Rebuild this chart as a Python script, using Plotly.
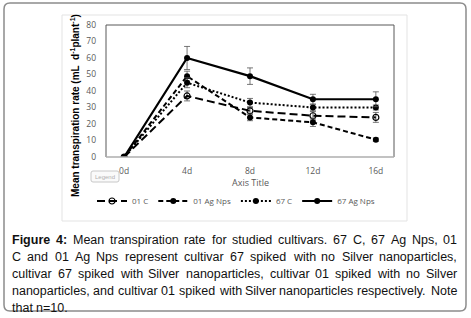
import plotly.graph_objects as go

# ---------------- data ----------------
days = ["0d", "4d", "8d", "12d", "16d"]
c01 = [0, 37, 28, 25, 24]
c01_err = [0, 3, 2, 2.5, 3]
ag01 = [0, 49, 24, 21, 10.5]
ag01_err = [0, 3, 2, 2.5, 1]
c67 = [0, 45, 33, 30, 30]
c67_err = [0, 3, 2.5, 2, 1.5]
ag67 = [0, 60, 49, 35, 35]
ag67_err = [0, 7, 5, 3, 4.5]
y_ticks = [0, 10, 20, 30, 40, 50, 60, 70, 80]

caption_lines = [
    "Figure 4: Mean transpiration rate for studied cultivars. 67 C, 67 Ag Nps, 01",
    "C and 01 Ag Nps represent cultivar 67 spiked with no Silver nanoparticles,",
    "cultivar 67 spiked with Silver nanoparticles, cultivar 01 spiked with no Silver",
    "nanoparticles, and cultivar 01 spiked with Silver nanoparticles respectively. Note",
    "that n=10.",
]

W, H = 471, 318
L, R, T, B = 106, 394, 25, 157


def px(x):
    return (x - L) / (R - L)


def py(y):
    return (B - y) / (B - T)


# Arial / Liberation Sans widths (per 1000 em)
AW = {' ': 278, ',': 278, '.': 278, ':': 278, '=': 584, '-': 333,
      '0': 556, '1': 556, '2': 556, '3': 556, '4': 556, '5': 556, '6': 556, '7': 556, '8': 556, '9': 556,
      'A': 667, 'C': 722, 'F': 611, 'M': 833, 'N': 722, 'S': 667,
      'a': 556, 'b': 556, 'c': 500, 'd': 556, 'e': 556, 'f': 278, 'g': 556, 'h': 556, 'i': 222,
      'j': 222, 'k': 500, 'l': 222, 'm': 833, 'n': 556, 'o': 556, 'p': 556, 'q': 556, 'r': 333,
      's': 500, 't': 278, 'u': 556, 'v': 500, 'w': 722, 'x': 500, 'y': 500, 'z': 500}
AWB = dict(AW)
AWB.update({':': 333, 'F': 611, 'i': 278, 'g': 611, 'u': 611, 'r': 389, 'e': 556})


def tw(s, size, bold=False):
    tab = AWB if bold else AW
    return sum(tab.get(ch, 556) for ch in s) * size / 1000.0


fig = go.Figure()

series = [
    ("01 C", c01, c01_err, dict(color="black", width=2, dash="8px,4px"),
     dict(symbol="circle-open", size=6, color="black", line=dict(width=1.2, color="black"))),
    ("01 Ag Nps", ag01, ag01_err, dict(color="black", width=2, dash="5px,3px"),
     dict(symbol="circle", size=6, color="black")),
    ("67 C", c67, c67_err, dict(color="black", width=2, dash="2px,2px"),
     dict(symbol="circle", size=6, color="black")),
    ("67 Ag Nps", ag67, ag67_err, dict(color="black", width=2.2),
     dict(symbol="circle", size=6, color="black")),
]
for name, vals, err, line, marker in series:
    fig.add_trace(go.Scatter(
        x=days, y=vals, name=name, mode="lines+markers",
        line=line, marker=marker,
        error_y=dict(type="data", array=err, visible=True, color="#555555", thickness=0.8, width=3),
    ))

shapes = []


def rpath(x0, y0, x1, y1, r):
    return (f"M {px(x0 + r)},{py(y0)} L {px(x1 - r)},{py(y0)} Q {px(x1)},{py(y0)} {px(x1)},{py(y0 + r)} "
            f"L {px(x1)},{py(y1 - r)} Q {px(x1)},{py(y1)} {px(x1 - r)},{py(y1)} "
            f"L {px(x0 + r)},{py(y1)} Q {px(x0)},{py(y1)} {px(x0)},{py(y1 - r)} "
            f"L {px(x0)},{py(y0 + r)} Q {px(x0)},{py(y0)} {px(x0 + r)},{py(y0)} Z")


# outer rounded frame
shapes.append(dict(type="path", xref="paper", yref="paper", path=rpath(4, 3, 466, 311, 6),
                   line=dict(color="#8c8c8c", width=1.5), layer="above"))
# chart box
shapes.append(dict(type="rect", xref="paper", yref="paper", x0=px(62), y0=py(15), x1=px(407), y1=py(221),
                   line=dict(color="#e3e3e3", width=1), layer="above"))
# plot area border
shapes.append(dict(type="rect", xref="paper", yref="paper", x0=0, y0=0, x1=1, y1=1,
                   line=dict(color="#595959", width=1), layer="above"))
shapes.append(dict(type="line", xref="paper", yref="paper", x0=0, y0=0, x1=1, y1=0,
                   line=dict(color="#d9d9d9", width=1), layer="above"))
# "Legend" button
shapes.append(dict(type="path", xref="paper", yref="paper", path=rpath(91, 171, 119, 182, 2),
                   line=dict(color="#c8c8c8", width=1), fillcolor="#fafafa", layer="above"))

annotations = []
annotations.append(dict(x=px(105), y=py(176.5), xref="paper", yref="paper", text="Legend",
                        xanchor="center", yanchor="middle",
                        showarrow=False, font=dict(family="Liberation Sans", size=6, color="#b0b0b0")))
annotations.append(dict(x=px(250), y=py(182), xref="paper", yref="paper", text="Axis Title",
                        xanchor="center", yanchor="middle",
                        showarrow=False, font=dict(family="Open Sans", size=9, color="#595959")))
annotations.append(dict(x=px(75), y=py(106), xref="paper", yref="paper", textangle=-90,
                        xanchor="center", yanchor="middle",
                        text="<b>Mean transpiration rate (mL  d<sup>-1</sup>plant<sup>-1</sup>)</b>",
                        showarrow=False, borderpad=0, borderwidth=0,
                        font=dict(family="Liberation Sans", size=10, color="black")))

# justified caption
fs = 12.5
left, right = 12, 457
line_y = [240, 257, 274, 291, 308]
for li, text in enumerate(caption_lines):
    words = text.split(" ")
    bold = [li == 0 and i < 2 for i in range(len(words))]
    widths = [tw(w, fs, b) for w, b in zip(words, bold)]
    last = li == len(caption_lines) - 1
    if last:
        gap = tw(" ", fs)
    else:
        gap = (right - left - sum(widths)) / (len(words) - 1)
    xcur = left
    for w, b, wd in zip(words, bold, widths):
        annotations.append(dict(x=px(xcur), y=py(line_y[li]), xref="paper", yref="paper",
                                xanchor="left", yanchor="middle", showarrow=False,
                                borderpad=0, borderwidth=0,
                                text=f"<b>{w}</b>" if b else w,
                                font=dict(family="Liberation Sans, Arial", size=fs, color="#111111")))
        xcur += wd + gap

fig.update_layout(
    width=W, height=H,
    margin=dict(l=L, r=W - R, t=T, b=H - B, pad=0),
    paper_bgcolor="white", plot_bgcolor="white",
    showlegend=True,
    legend=dict(orientation="h", xref="container", yref="container",
                x=236 / W, y=1 - 201 / H, xanchor="center", yanchor="middle",
                font=dict(family="Open Sans", size=8, color="#595959"),
                itemwidth=30, tracegroupgap=0, bgcolor="rgba(0,0,0,0)"),
    xaxis=dict(type="category", showgrid=False, zeroline=False, showline=False,
               ticks="", tickfont=dict(family="Open Sans", size=8.5, color="#595959"),
               ticklabelstandoff=7, fixedrange=True),
    yaxis=dict(range=[0, 80], tickvals=y_ticks, showgrid=False, zeroline=False, showline=False,
               ticks="", tickfont=dict(family="Open Sans", size=8.5, color="#595959"),
               ticklabelstandoff=9, fixedrange=True),
    shapes=shapes, annotations=annotations,
)

fig.write_html("out.html", config={"displayModeBar": False},
               post_script="document.body.style.margin='0';document.body.style.padding='0';")
